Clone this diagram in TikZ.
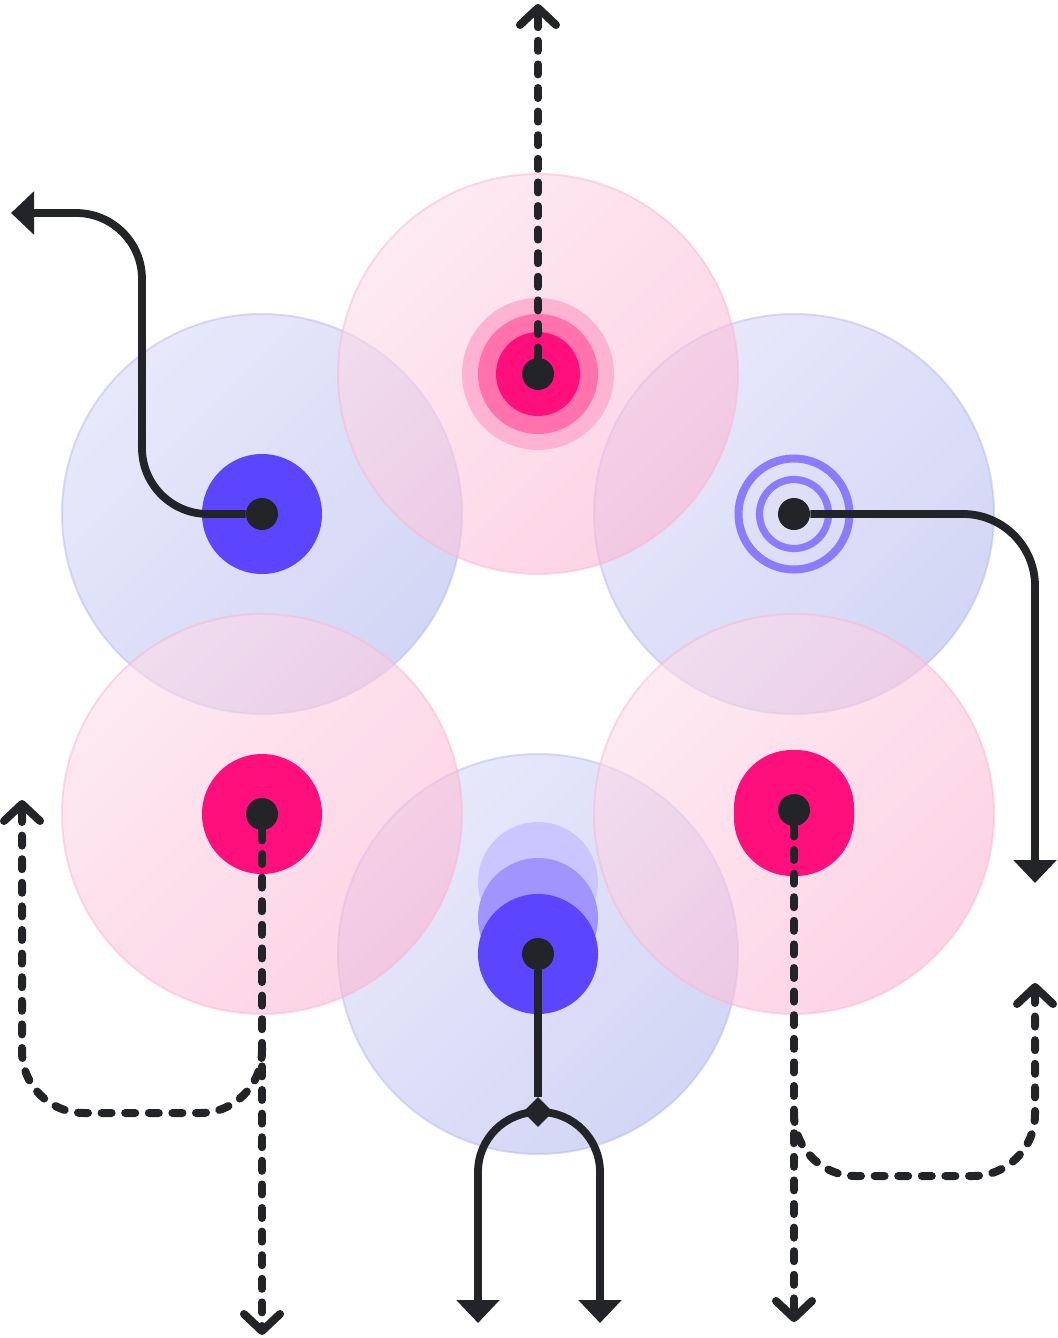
\documentclass[tikz,border=0pt]{standalone}
\usepackage{tikz}
\usetikzlibrary{arrows.meta,shapes.geometric}

\definecolor{ink}{HTML}{232428}
\definecolor{hotpink}{HTML}{FF0F7B}
\definecolor{midpink}{HTML}{FF72AC}
\definecolor{softpink}{HTML}{FFB3D3}
\definecolor{violet}{HTML}{5B45FF}
\definecolor{midviolet}{HTML}{A095FF}
\definecolor{softviolet}{HTML}{CBC6FE}
\definecolor{ringviolet}{HTML}{8A7BFF}
\definecolor{pinklo}{HTML}{FCDCE9}
\definecolor{pinkhi}{HTML}{FCB6D4}
\definecolor{bluelo}{HTML}{D9D9F8}
\definecolor{bluehi}{HTML}{B5BBEE}

\tikzset{
  pinkdisc/.style={top color=pinklo, bottom color=pinkhi, shading angle=45,
    fill opacity=0.6, draw=pinkhi, draw opacity=0.5, line width=1pt},
  bluedisc/.style={top color=bluelo, bottom color=bluehi, shading angle=45,
    fill opacity=0.6, draw=bluehi, draw opacity=0.5, line width=1pt},
  hub/.style={circle, fill=ink, minimum size=16pt, inner sep=0pt},
  wire/.style={ink, line width=3.9pt, rounded corners=36pt,
    -{Triangle[width=21pt,length=11.5pt]}},
  trail/.style={ink, line width=4pt, line cap=round, dash pattern=on 5pt off 6.8pt,
    rounded corners=31pt, -{Straight Barb[width=18pt,length=8.5pt,round]}}
}

\begin{document}
\begin{tikzpicture}[x=0.5pt, y=-0.5pt]
\useasboundingbox (0,0) rectangle (1058,1338);

% Large translucent discs
\path[bluedisc] (262,514) circle (200);
\path[bluedisc] (794,514) circle (200);
\path[pinkdisc] (538,374) circle (200);
\path[bluedisc] (538,954) circle (200);
\path[pinkdisc] (262,814) circle (200);
\path[pinkdisc] (794,814) circle (200);

% Top: pulsing rings
\fill[softpink] (538,374) circle (76);
\fill[midpink] (538,374) circle (60);
\fill[hotpink] (538,374) circle (42);

% Left: solid disc
\fill[violet] (262,514) circle (60);

% Right: outline rings
\draw[ringviolet, line width=4pt] (794,514) circle (55.5);
\draw[ringviolet, line width=3.6pt] (794,514) circle (34.5);

% Lower left and lower right
\fill[hotpink] (262,814) circle (60);
\fill[hotpink, rounded corners=29pt] (734,750) rectangle (854,876);

% Bottom: stacked discs
\fill[softviolet] (538,882) circle (60);
\fill[midviolet] (538,918) circle (60);
\fill[violet] (538,954) circle (60);

% Hubs
\node[hub] (ntop) at (538,374) {};
\node[hub] (nleft) at (262,514) {};
\node[hub] (nright) at (794,514) {};
\node[hub] (nlb) at (262,814) {};
\node[hub] (nrb) at (794,810) {};
\node[hub] (nbot) at (538,954) {};
\node[diamond, fill=ink, minimum size=15pt, inner sep=0pt] (split) at (538,1112) {};

% Ends and bends
\coordinate (tend) at (538,4);
\coordinate (lcorner) at (142,213);
\coordinate (lend) at (11,213);
\coordinate (rend) at (1035,883);
\coordinate (bl) at (478,1323);
\coordinate (br) at (600,1323);
\coordinate (lbend) at (262,1335);
\coordinate (lbfork) at (262,1048);
\coordinate (lbcorner) at (22,1113);
\coordinate (lbup) at (22,800);
\coordinate (rbend) at (794,1322);
\coordinate (rbfork) at (794,1112);
\coordinate (rbcorner) at (1035,1176);
\coordinate (rbup) at (1035,983);

% Solid connectors
\draw[wire, rounded corners=33pt] (nleft) -| (lcorner) -- (lend);
\draw[wire] (nright) -| (rend);
\draw[ink, line width=3.9pt] (nbot) -- (split);
\draw[wire, rounded corners=30pt] (split.center) -| (bl);
\draw[wire, rounded corners=30pt] (split.center) -| (br);

% Dashed connectors
\draw[trail] (ntop) -- (tend);
\draw[trail] (nlb) -- (lbend);
\draw[trail] (lbfork) |- (lbcorner) -- (lbup);
\draw[trail] (nrb) -- (rbend);
\draw[trail] (rbfork) |- (rbcorner) -- (rbup);
\end{tikzpicture}
\end{document}
